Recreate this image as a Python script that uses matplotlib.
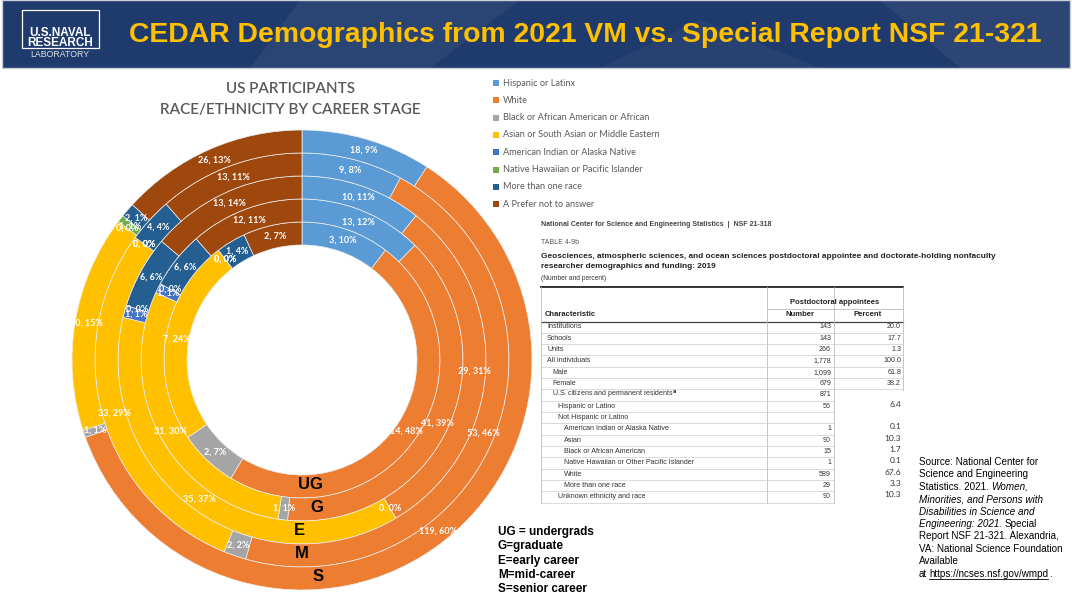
import matplotlib
matplotlib.use('Agg')
import matplotlib.pyplot as plt
from matplotlib.patches import Rectangle, Polygon
import numpy as np

# race / ethnicity categories (legend order = slice order, clockwise from top)
races = ['Hispanic or Latinx', 'White', 'Black or African American or African',
         'Asian or South Asian or Middle Eastern', 'American Indian or Alaska Native',
         'Native Hawaiian or Pacific Islander', 'More than one race', 'A Prefer not to answer']
race_colors = ['#5B9BD5', '#ED7D31', '#A5A5A5', '#FFC000', '#4472C4', '#70AD47', '#255E91', '#9E480E']

# career stages, inner ring to outer ring
stages = ['UG', 'G', 'E', 'M', 'S']
counts_ug = [3, 14, 2, 7, 0, 0, 1, 2]
pct_ug = [10, 48, 7, 24, 0, 0, 4, 7]
counts_g = [13, 41, 1, 31, 1, 0, 6, 12]
pct_g = [12, 39, 1, 30, 1, 0, 6, 11]
counts_e = [10, 29, 0, 35, 1, 0, 6, 13]
pct_e = [11, 31, 0, 37, 1, 0, 6, 14]
counts_m = [9, 53, 2, 33, 0, 0, 4, 13]
pct_m = [8, 46, 2, 29, 0, 0, 4, 11]
counts_s = [18, 119, 1, 30, 0, 1, 2, 26]
pct_s = [9, 60, 1, 15, 0, 1, 1, 13]

stage_notes = ['UG = undergrads', 'G=graduate', 'E=early career', 'M=mid-career', 'S=senior career']

# NSF table 4-9b
table_chars = ['Institutions', 'Schools', 'Units', 'All individuals', 'Male', 'Female',
               'U.S. citizens and permanent residents$^{\\mathbf{a}}$', 'Hispanic or Latino',
               'Not Hispanic or Latino', 'American Indian or Alaska Native', 'Asian',
               'Black or African American', 'Native Hawaiian or Other Pacific Islander',
               'White', 'More than one race', 'Unknown ethnicity and race']
table_indent = [0, 0, 0, 0, 1, 1, 1, 2, 2, 3, 3, 3, 3, 3, 3, 2]
table_number = ['143', '143', '266', '1,778', '1,099', '679', '871', '56', '',
                '1', '90', '15', '1', '589', '29', '90']
table_percent = ['20.0', '17.7', '1.3', '100.0', '61.8', '38.2', '', '6.4', '',
                 '0.1', '10.3', '1.7', '0.1', '67.6', '3.3', '10.3']

W, H = 1072, 595
fig = plt.figure(figsize=(W / 100, H / 100), dpi=100)
fig.patch.set_facecolor('white')

bg = fig.add_axes([0, 0, 1, 1])
bg.set_xlim(0, W)
bg.set_ylim(H, 0)
bg.axis('off')

# ---- header banner
bg.add_patch(Rectangle((2, 0), W - 4, 68, facecolor='#1f3a6c', edgecolor='#c9ced8', lw=1))
for pts, a in [([(300, 0), (520, 0), (430, 68), (250, 68)], 0.05),
               ([(880, 0), (1070, 0), (1070, 68), (960, 68)], 0.06),
               ([(600, 68), (700, 20), (820, 68)], 0.04)]:
    bg.add_patch(Polygon(pts, closed=True, facecolor='white', alpha=a, lw=0))
bg.add_patch(Rectangle((22, 10), 77, 38, facecolor='none', edgecolor='white', lw=0.9))
bg.text(60, 33, 'U.S.NAVAL', color='white', fontsize=8.5, fontweight='bold',
        ha='center', va='center', family='Liberation Sans')
bg.text(60, 43.5, 'RESEARCH', color='white', fontsize=8.5, fontweight='bold',
        ha='center', va='center', family='Liberation Sans')
bg.text(60, 54.5, 'LABORATORY', color='#dfe3ea', fontsize=6.3,
        ha='center', va='center', family='Liberation Sans')
bg.text(585, 35, 'CEDAR Demographics from 2021 VM vs. Special Report NSF 21-321',
        color='#FFC000', fontsize=20.4, fontweight='bold', ha='center', va='center',
        family='Liberation Sans')

# ---- chart title
bg.text(291, 89, 'US PARTICIPANTS', color='#595959', fontsize=11, ha='center',
        va='center', family='Lato', fontweight='semibold')
bg.text(290, 110, 'RACE/ETHNICITY BY CAREER STAGE', color='#595959', fontsize=11,
        ha='center', va='center', family='Lato', fontweight='semibold')

# ---- legend
for i, (lab, col) in enumerate(zip(races, race_colors)):
    yy = 83 + i * 17.3
    bg.add_patch(Rectangle((493, yy - 3), 6, 6, facecolor=col, lw=0))
    bg.text(503, yy, lab, color='#595959', fontsize=6.6, va='center', family='Lato')

# ---- nested doughnut
pie_ax = fig.add_axes([72 / W, 5 / H, 460 / W, 460 / H])
rings = [(counts_ug, pct_ug), (counts_g, pct_g), (counts_e, pct_e),
         (counts_m, pct_m), (counts_s, pct_s)]
ring_w = 0.1
for k, (cnt, pct) in enumerate(rings):
    r = 0.6 + k * ring_w
    wedges, _ = pie_ax.pie(cnt, radius=r, colors=race_colors, startangle=90,
                           counterclock=False,
                           wedgeprops=dict(width=ring_w, edgecolor='#efefef', linewidth=0.5))
    for w, c, p in zip(wedges, cnt, pct):
        mid = np.deg2rad((w.theta1 + w.theta2) / 2)
        rr = r - ring_w / 2
        pie_ax.text(rr * np.cos(mid), rr * np.sin(mid), f'{c}, {p}%', color='white',
                    fontsize=6.5, fontweight='bold', ha='center', va='center',
                    family='Lato', clip_on=True)
stage_dx = [0.035, 0.065, -0.013, 0.0, 0.07]
for k, (st, dx) in enumerate(zip(stages, stage_dx)):
    rr = 0.6 + k * ring_w - ring_w / 2
    pie_ax.text(dx, -rr + 0.01, st, color='black', fontsize=12, fontweight='bold',
                ha='center', va='center', family='Liberation Sans')
pie_ax.set_xlim(-1, 1)
pie_ax.set_ylim(-1, 1)
pie_ax.set_aspect('equal')
pie_ax.axis('off')

# ---- stage key
for i, t in enumerate(stage_notes):
    bg.text(498, 532 + i * 14.3, t, fontsize=8.5, fontweight='bold', va='center',
            family='Liberation Sans', color='black')

# ---- NSF table
tf = 'Liberation Sans'
bg.text(541, 224, 'National Center for Science and Engineering Statistics  |  NSF 21-318',
        fontsize=5, fontweight='bold', color='#444444', va='center', family=tf)
bg.text(541, 242, 'TABLE 4-9b', fontsize=5, color='#555555', va='center', family=tf)
bg.text(541, 256, 'Geosciences, atmospheric sciences, and ocean sciences postdoctoral '
        'appointee and doctorate-holding nonfaculty', fontsize=5.95, fontweight='bold',
        color='#222222', va='center', family=tf)
bg.text(541, 267, 'researcher demographics and funding: 2019', fontsize=5.95,
        fontweight='bold', color='#222222', va='center', family=tf)
bg.text(541, 279, '(Number and percent)', fontsize=4.8, color='#333333', va='center', family=tf)

bg.plot([541, 903], [287, 287], color='#333333', lw=1.4)
bg.plot([767, 903], [309, 309], color='#bbbbbb', lw=0.6)
bg.plot([541, 903], [322, 322], color='#444444', lw=0.9)
bg.text(835, 302, 'Postdoctoral appointees', fontsize=5.5, fontweight='bold',
        ha='center', va='center', color='#222222', family=tf)
bg.text(545, 315, 'Characteristic', fontsize=5.5, fontweight='bold', va='center',
        color='#222222', family=tf)
bg.text(800, 315, 'Number', fontsize=5.5, fontweight='bold', ha='center', va='center',
        color='#222222', family=tf)
bg.text(868, 315, 'Percent', fontsize=5.5, fontweight='bold', ha='center', va='center',
        color='#222222', family=tf)

row_h = 11.33
y0 = 327
bg.plot([541, 541], [287, y0 + 15 * row_h + 6], color='#bbbbbb', lw=0.6)
bg.plot([767, 767], [287, y0 + 15 * row_h + 6], color='#bbbbbb', lw=0.6)
bg.plot([834, 834], [287, y0 + 15 * row_h + 6], color='#bbbbbb', lw=0.6)
bg.plot([903, 903], [287, y0 + 5 * row_h + 6], color='#bbbbbb', lw=0.6)
for i, (ch, ind, num, per) in enumerate(zip(table_chars, table_indent, table_number, table_percent)):
    yy = y0 + i * row_h
    bg.text(547 + ind * 5.5, yy, ch, fontsize=5.1, color='#333333', va='center', family=tf)
    if num:
        bg.text(831, yy, num, fontsize=5.1, color='#333333', va='center', ha='right', family=tf)
    if per:
        if i < 6:
            bg.text(901, yy, per, fontsize=5.1, color='#333333', va='center', ha='right', family=tf)
        else:
            bg.text(901, yy - 2, per, fontsize=6, color='#333333', va='center', ha='right',
                    family='Lato')
    lx1 = 903 if i < 6 else 834
    bg.plot([541, lx1], [yy + row_h / 2, yy + row_h / 2], color='#cccccc', lw=0.5)

# ---- source note with mixed styles
renderer = fig.canvas.get_renderer()


def write_runs(x, y, runs):
    for txt, style, under, gap in runs:
        x += gap
        t = bg.text(x, y, txt, fontsize=7.1, style=style, va='center', family=tf, color='black')
        bb = t.get_window_extent(renderer)
        if under:
            bg.plot([x, x + bb.width], [y + 5, y + 5], color='black', lw=0.6)
        x += bb.width


src_lines = [
    [('Source: National Center for', 'normal', False, 0)],
    [('Science and Engineering', 'normal', False, 0)],
    [('Statistics. 2021.', 'normal', False, 0), ('Women,', 'italic', False, 2.2)],
    [('Minorities, and Persons with', 'italic', False, 0)],
    [('Disabilities in Science and', 'italic', False, 0)],
    [('Engineering: 2021.', 'italic', False, 0), ('Special', 'normal', False, 2.2)],
    [('Report NSF 21-321. Alexandria,', 'normal', False, 0)],
    [('VA: National Science Foundation', 'normal', False, 0)],
    [('Available', 'normal', False, 0)],
    [('at', 'normal', False, 0), ('https://ncses.nsf.gov/wmpd', 'normal', True, 2.2),
     ('.', 'normal', False, 0.3)],
]
for i, runs in enumerate(src_lines):
    write_runs(919, 462 + i * 12.4, runs)

fig.savefig('out.png', dpi=100, facecolor='white')
